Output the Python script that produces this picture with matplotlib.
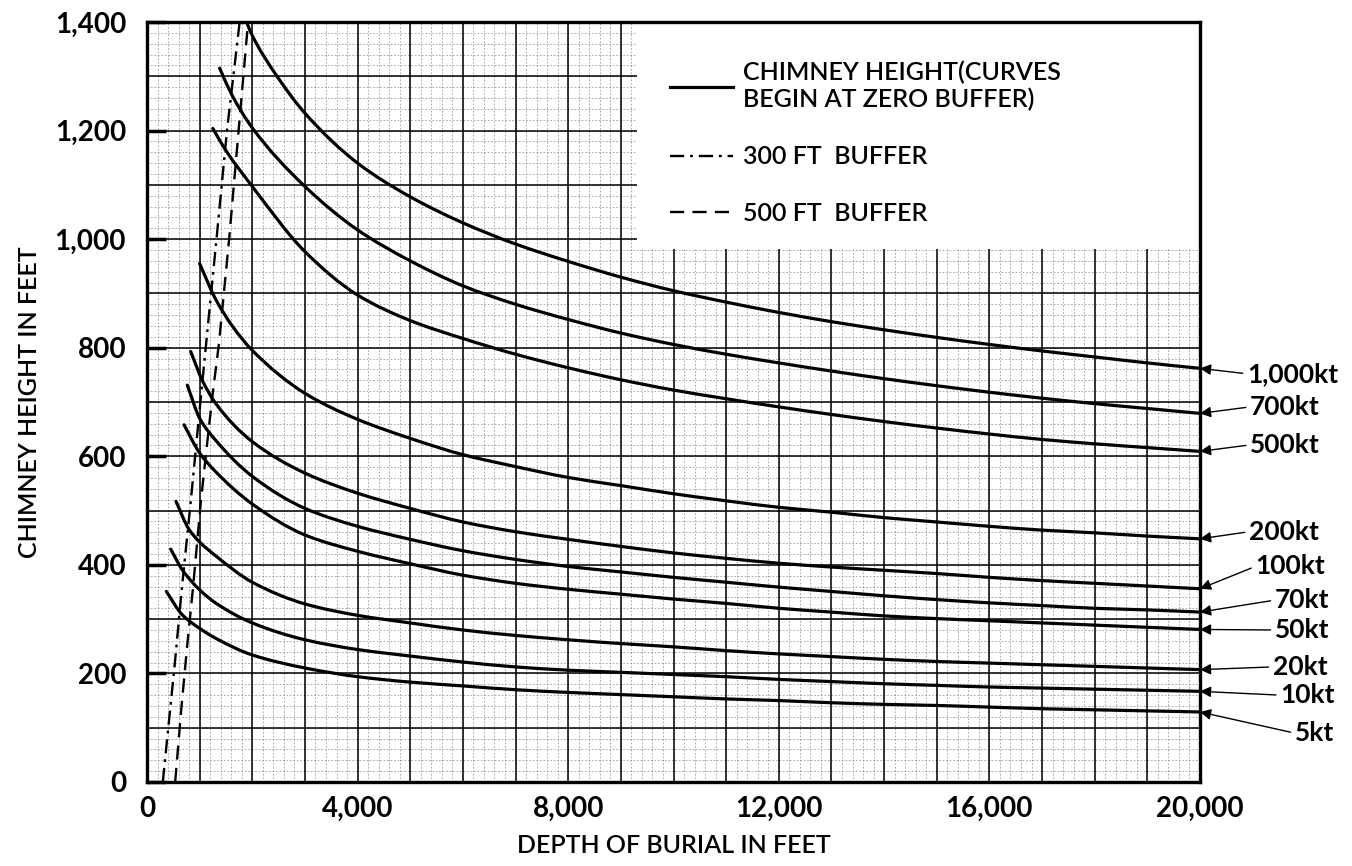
import matplotlib
matplotlib.use("Agg")
import matplotlib.pyplot as plt
from matplotlib.patches import Rectangle, PathPatch
from matplotlib.path import Path
from matplotlib.lines import Line2D
import numpy as np

plt.rcParams['font.family'] = ['Lato', 'DejaVu Sans']

# Chimney height (ft) against depth of burial (ft), one curve per yield
depth_1000kt = [1890, 2000, 2470, 3000, 4000, 5000, 6000, 7000, 8000, 9000, 10000,
                11000, 12000, 13000, 14000, 15000, 16000, 17000, 18000, 19000, 20000]
height_1000kt = [1400, 1375, 1300, 1232, 1140, 1078, 1030, 991, 959, 930, 905,
                 884, 865, 848, 833, 819, 806, 794, 783, 772, 762]

depth_700kt = [1380, 1600, 2000, 3000, 4000, 5000, 6000, 7000, 8000, 9000, 10000,
               11000, 12000, 13000, 14000, 15000, 16000, 17000, 18000, 19000, 20000]
height_700kt = [1315, 1268, 1205, 1097, 1017, 960, 914, 880, 852, 827, 806,
                788, 772, 757, 743, 730, 718, 707, 697, 688, 679]

depth_500kt = [1250, 1500, 2000, 3000, 4000, 5000, 6000, 7000, 8000, 9000, 10000,
               11000, 12000, 13000, 14000, 15000, 16000, 17000, 18000, 19000, 20000]
height_500kt = [1204, 1163, 1097, 977, 897, 850, 817, 788, 763, 741, 722,
                706, 691, 677, 664, 652, 641, 631, 623, 616, 609]

depth_200kt = [1000, 1300, 1620, 2000, 3000, 4000, 5000, 6000, 7000, 8000, 9000, 10000,
               11000, 12000, 13000, 14000, 15000, 16000, 17000, 18000, 19000, 20000]
height_200kt = [955, 890, 840, 795, 716, 668, 633, 603, 581, 561, 546, 531,
                518, 506, 497, 487, 479, 471, 464, 459, 453, 448]

depth_100kt = [830, 1050, 1300, 2000, 3000, 4000, 5000, 6000, 7000, 8000, 9000, 10000,
               11000, 12000, 13000, 14000, 15000, 16000, 17000, 18000, 19000, 20000]
height_100kt = [793, 740, 698, 627, 569, 532, 504, 479, 461, 447, 434, 422,
                412, 403, 396, 390, 384, 377, 371, 366, 361, 356]

depth_70kt = [766, 1000, 1300, 2000, 3000, 4000, 5000, 6000, 7000, 8000, 9000, 10000,
              11000, 12000, 13000, 14000, 15000, 16000, 17000, 18000, 19000, 20000]
height_70kt = [731, 670, 630, 563, 504, 471, 447, 426, 410, 397, 387, 377,
               368, 359, 351, 343, 336, 330, 325, 320, 317, 313]

depth_50kt = [703, 1000, 1300, 2000, 3000, 4000, 5000, 6000, 7000, 8000, 9000, 10000,
              11000, 12000, 13000, 14000, 15000, 16000, 17000, 18000, 19000, 20000]
height_50kt = [658, 606, 572, 512, 455, 425, 402, 381, 366, 355, 346, 337,
               329, 320, 313, 306, 301, 297, 293, 289, 285, 281]

depth_20kt = [550, 800, 1000, 1300, 2000, 3000, 4000, 5000, 6000, 7000, 8000, 9000, 10000,
              11000, 12000, 13000, 14000, 15000, 16000, 17000, 18000, 19000, 20000]
height_20kt = [517, 465, 442, 417, 368, 328, 307, 293, 280, 270, 262, 255, 249,
               242, 236, 231, 226, 222, 219, 216, 213, 210, 207]

depth_10kt = [450, 670, 1000, 1300, 2000, 3000, 4000, 5000, 6000, 7000, 8000, 9000, 10000,
              11000, 12000, 13000, 14000, 15000, 16000, 17000, 18000, 19000, 20000]
height_10kt = [429, 391, 354, 330, 293, 262, 244, 232, 221, 212, 206, 202, 198,
               194, 189, 185, 181, 178, 175, 173, 171, 169, 167]

depth_5kt = [367, 670, 1000, 1300, 2000, 3000, 4000, 5000, 6000, 7000, 8000, 9000, 10000,
             11000, 12000, 13000, 14000, 15000, 16000, 17000, 18000, 19000, 20000]
height_5kt = [351, 308, 283, 265, 234, 210, 194, 184, 177, 170, 165, 161, 157,
              153, 150, 146, 143, 141, 138, 135, 133, 131, 129]

yield_labels = ['1,000kt', '700kt', '500kt', '200kt', '100kt',
                '70kt', '50kt', '20kt', '10kt', '5kt']

# Buffer lines
buffer300_depth = [300, 535, 660, 829, 1019, 1146, 1330, 1519, 1760]
buffer300_height = [0, 225, 355, 515, 705, 830, 1010, 1200, 1400]
buffer500_depth = [535, 650, 755, 881, 1019, 1114, 1241, 1367, 1560, 1740, 1920]
buffer500_height = [0, 133, 243, 365, 513, 599, 710, 808, 1000, 1200, 1400]

curves = [
    (depth_1000kt, height_1000kt), (depth_700kt, height_700kt),
    (depth_500kt, height_500kt), (depth_200kt, height_200kt),
    (depth_100kt, height_100kt), (depth_70kt, height_70kt),
    (depth_50kt, height_50kt), (depth_20kt, height_20kt),
    (depth_10kt, height_10kt), (depth_5kt, height_5kt),
]

# where the yield labels sit (data coords, outside the right edge)
label_x = [20890, 20950, 20950, 20930, 21050, 21420, 21420, 21380, 21520, 21800]
label_y = [752, 691, 621, 461, 397, 335, 280, 212, 160, 90]


def smooth_path(x, y):
    """Shape-preserving cubic (PCHIP-style tangents) through the points, as Bezier segments."""
    x = np.asarray(x, float)
    y = np.asarray(y, float)
    h = np.diff(x)
    d = np.diff(y) / h
    m = np.empty_like(x)
    m[0], m[-1] = d[0], d[-1]
    for i in range(1, len(x) - 1):
        if d[i - 1] * d[i] <= 0:
            m[i] = 0.0
        else:
            w1 = 2 * h[i] + h[i - 1]
            w2 = h[i] + 2 * h[i - 1]
            m[i] = (w1 + w2) / (w1 / d[i - 1] + w2 / d[i])
    verts = [(x[0], y[0])]
    codes = [Path.MOVETO]
    for i in range(len(x) - 1):
        verts += [(x[i] + h[i] / 3, y[i] + m[i] * h[i] / 3),
                  (x[i + 1] - h[i] / 3, y[i + 1] - m[i + 1] * h[i] / 3),
                  (x[i + 1], y[i + 1])]
        codes += [Path.CURVE4] * 3
    return Path(verts, codes)


fig = plt.figure(figsize=(13.52, 8.66), dpi=100)
ax = fig.add_axes([147 / 1352, 84 / 866, 1053 / 1352, 760 / 866])
ax.set_xlim(0, 20000)
ax.set_ylim(0, 1400)

# graph-paper grid
ax.vlines(np.arange(0, 20001, 200), 0, 1400, colors='0.55', lw=0.5,
          linestyles=(0, (2.5, 2.5)), zorder=1)
ax.hlines(np.arange(0, 1401, 20), 0, 20000, colors='0.55', lw=0.5,
          linestyles=(0, (2.5, 2.5)), zorder=1)
ax.vlines(np.arange(0, 20001, 1000), 0, 1400, colors='black', lw=1.1, zorder=1.5)
ax.hlines(np.arange(0, 1401, 100), 0, 20000, colors='black', lw=1.1, zorder=1.5)

# blank area behind the key
ax.add_patch(Rectangle((9300, 982), 10700, 418, facecolor='white',
                       edgecolor='none', zorder=2))

for d, h in curves:
    ax.add_patch(PathPatch(smooth_path(d, h), facecolor='none', edgecolor='black',
                           lw=2.3, capstyle='round', zorder=4))

dd, = ax.plot(buffer300_depth, buffer300_height, color='black', lw=1.7,
              dashes=(6, 2.5, 1.2, 2.5), zorder=3)
da, = ax.plot(buffer500_depth, buffer500_height, color='black', lw=1.7,
              dashes=(6, 3.5), zorder=3)

for (d, h), name, tx, ty in zip(curves, yield_labels, label_x, label_y):
    ax.annotate(name, xy=(d[-1], h[-1]), xytext=(tx, ty), textcoords='data',
                ha='left', va='center', fontsize=19, fontweight='bold',
                annotation_clip=False,
                arrowprops=dict(arrowstyle='-|>', color='black', lw=1.0,
                                mutation_scale=16, shrinkA=1, shrinkB=0,
                                relpos=(0, 0.5)))

solid = Line2D([], [], color='black', lw=2.3)
leg = ax.legend([solid, dd, da],
                ['CHIMNEY HEIGHT(CURVES\nBEGIN AT ZERO BUFFER)',
                 '300 FT  BUFFER', '500 FT  BUFFER'],
                loc='upper left', bbox_to_anchor=(0.497, 0.949), frameon=False,
                fontsize=18, handlelength=2.5, handletextpad=0.4,
                labelspacing=1.35, borderpad=0, borderaxespad=0)
for t in leg.get_texts():
    t.set_fontweight('semibold')
leg.set_zorder(5)

ax.set_xticks(np.arange(0, 20001, 4000))
ax.set_xticklabels([f'{v:,}' for v in range(0, 20001, 4000)])
ax.set_yticks(np.arange(0, 1401, 200))
ax.set_yticklabels([f'{v:,}' for v in range(0, 1401, 200)])
ax.tick_params(axis='x', length=0, pad=10, labelsize=20)
ax.tick_params(axis='y', direction='in', length=14, width=2.5, pad=15, labelsize=20)
for lab in ax.get_xticklabels() + ax.get_yticklabels():
    lab.set_fontweight('bold')

for sp in ax.spines.values():
    sp.set_linewidth(2.4)
    sp.set_zorder(6)

ax.set_xlabel('DEPTH OF BURIAL IN FEET', fontsize=18, fontweight='semibold',
              labelpad=9)
ax.set_ylabel('CHIMNEY HEIGHT IN FEET', fontsize=18, fontweight='semibold',
              labelpad=10)

fig.savefig('out.png', dpi=100, facecolor='white')
